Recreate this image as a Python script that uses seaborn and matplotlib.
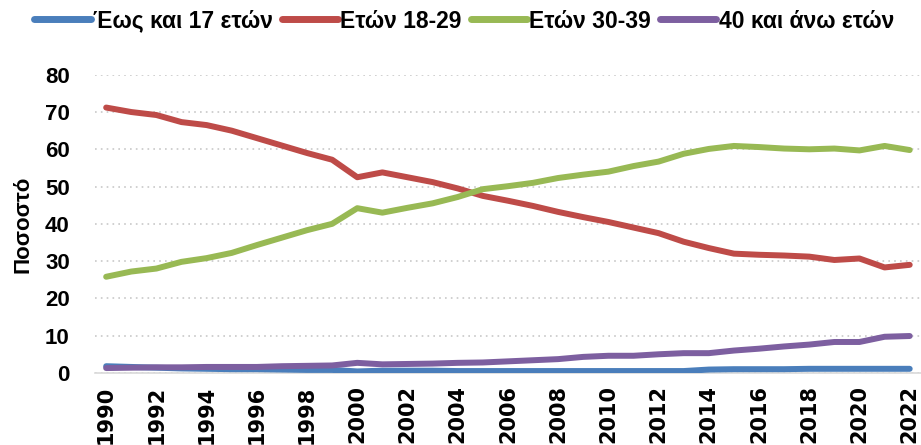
import matplotlib
matplotlib.use("Agg")
import matplotlib.pyplot as plt
import seaborn as sns
import pandas as pd
from matplotlib.lines import Line2D

years = list(range(1990, 2023))
upto17 = [1.8, 1.6, 1.4, 1.2, 1.1, 1.0, 1.0, 0.9, 0.8, 0.8, 0.4, 0.6, 0.6, 0.6, 0.5, 0.5,
          0.5, 0.5, 0.5, 0.5, 0.5, 0.5, 0.5, 0.5, 0.9, 1.0, 1.0, 1.0, 1.1, 1.1, 1.1, 1.1, 1.1]
age18_29 = [71.2, 70.0, 69.2, 67.3, 66.5, 65.0, 63.0, 61.0, 59.0, 57.2, 52.5, 53.8, 52.5, 51.2,
            49.5, 47.5, 46.2, 44.8, 43.2, 41.8, 40.5, 39.0, 37.5, 35.2, 33.5, 32.0, 31.7, 31.5,
            31.2, 30.3, 30.7, 28.3, 29.0]
age30_39 = [25.8, 27.2, 28.0, 29.8, 30.8, 32.2, 34.3, 36.3, 38.3, 40.0, 44.2, 43.0, 44.3, 45.5,
            47.2, 49.3, 50.1, 51.0, 52.3, 53.2, 54.0, 55.5, 56.7, 58.8, 60.1, 60.9, 60.6, 60.2,
            60.0, 60.2, 59.7, 60.9, 59.8]
age40plus = [1.3, 1.4, 1.5, 1.5, 1.6, 1.6, 1.6, 1.8, 1.9, 2.0, 2.7, 2.3, 2.4, 2.5, 2.7, 2.8,
             3.1, 3.4, 3.7, 4.3, 4.6, 4.6, 5.0, 5.3, 5.3, 6.0, 6.5, 7.1, 7.6, 8.3, 8.3, 9.7, 9.9]
series_names = ["Έως και 17 ετών", "Ετών 18-29", "Ετών 30-39", "40 και άνω ετών"]
colors = ["#4a7ebb", "#be4b48", "#98b954", "#7d5fa0"]
tick_years = list(range(1990, 2023, 2))
yticks = [0, 10, 20, 30, 40, 50, 60, 70, 80]

rows = []
for name, vals in zip(series_names, [upto17, age18_29, age30_39, age40plus]):
    for y, v in zip(years, vals):
        rows.append({"Έτος": y, "Ποσοστό": v, "Ομάδα": name})
df = pd.DataFrame(rows)

sns.set_theme(style="white")
plt.rcParams['font.family'] = ['Liberation Sans', 'DejaVu Sans']
plt.rcParams['text.color'] = 'black'
plt.rcParams['xtick.color'] = 'black'
plt.rcParams['ytick.color'] = 'black'
plt.rcParams['axes.labelcolor'] = 'black'

fig = plt.figure(figsize=(9.21, 4.45), dpi=100)
ax = fig.add_axes([0.103, 0.162, 0.897, 0.67])

sns.lineplot(data=df, x="Έτος", y="Ποσοστό", hue="Ομάδα", hue_order=series_names,
             palette=colors, linewidth=4.3, ax=ax, legend=False,
             solid_capstyle="round", solid_joinstyle="round", zorder=3)

ax.set_xlim(1989.55, 2022.45)
ax.set_ylim(0, 80)
ax.set_yticks(yticks)
ax.set_xticks(tick_years)
ax.set_xticklabels([str(t) for t in tick_years], rotation=90, fontsize=15,
                   fontweight="bold", family="DejaVu Sans")
ax.set_yticklabels([str(t) for t in yticks], fontsize=16, fontweight="bold")
ax.tick_params(axis="x", length=0, pad=9)
ax.tick_params(axis="y", length=0, pad=18)
ax.set_xlabel("")
ax.set_ylabel("Ποσοστό", fontsize=16, fontweight="bold", labelpad=8)

ax.yaxis.grid(True, linestyle=(0, (1, 2.5)), color="#c8c8c8", linewidth=1.2)
ax.set_axisbelow(True)
for s in ["top", "right", "left"]:
    ax.spines[s].set_visible(False)
ax.spines["bottom"].set_color("#d9d9d9")
ax.spines["bottom"].set_linewidth(1.2)

handles = [Line2D([0], [0], color=c, lw=5, solid_capstyle="round") for c in colors]
fig.legend(handles, series_names, loc="upper center", bbox_to_anchor=(0.504, 1.025), ncol=4,
           frameon=False, prop={"family": "Liberation Sans", "weight": "bold", "size": 16.5},
           handlelength=2.45, handletextpad=0.1, columnspacing=0.4)

fig.savefig("out.png", dpi=100)
